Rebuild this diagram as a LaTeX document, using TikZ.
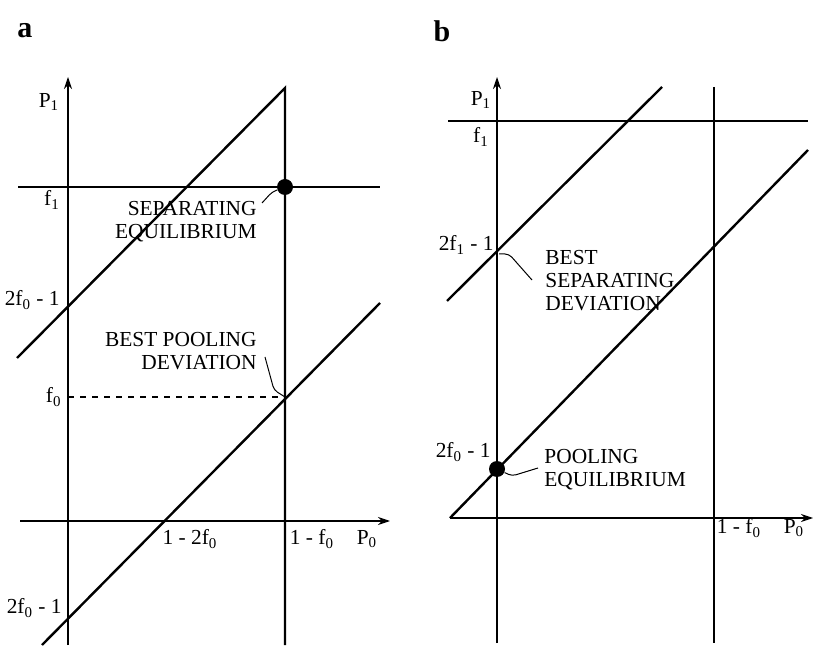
\documentclass[tikz,border=0pt]{standalone}
\usepackage{fontspec}
\setmainfont{Liberation Serif}
\usetikzlibrary{arrows.meta}

\begin{document}
\begin{tikzpicture}[
  x=0.5pt, y=-0.5pt,
  >={Stealth[length=6pt,width=4pt]},
  axis/.style={->, line width=0.6pt},
  curve/.style={line width=1.2pt},
  guide/.style={dashed, line width=0.6pt},
  lbl/.style={font=\fontsize{10.7}{11.5}\selectfont, inner sep=0pt},
  note/.style={lbl, align=left},
  leader/.style={line width=0.5pt, rounded corners=2pt},
  eqdot/.style={circle, fill=black, inner sep=0pt, minimum size=8pt},
  panel/.style={font=\fontsize{15}{15}\selectfont\bfseries, inner sep=0pt}
]
\useasboundingbox (0,0) rectangle (814,646);

% panel a
\node[panel] (pa) at (25,31) {a};
\coordinate (aSep) at (285,187);
\coordinate (aPool) at (285,397);
\draw[axis] (68,645) -- (68,77);
\draw[axis] (20,521) -- (390,521);
\draw[curve] (18,187) -- (380,187);
\draw[curve, miter limit=20] (17,358) -- (285,88) -- (285,645);
\draw[curve] (42,645) -- (380,303);
\draw[guide] (68,397) -- (aPool);
\node[eqdot] (aeq) at (aSep) {};

\node[lbl] (aP1) at (49,102) {P\textsubscript{1}};
\node[lbl] (af1) at (52,200) {f\textsubscript{1}};
\node[lbl, anchor=east] (aSepInt) at (60,300) {2f\textsubscript{0} - 1};
\node[lbl, anchor=east] (af0) at (62,397) {f\textsubscript{0}};
\node[lbl, anchor=east] (aPoolInt) at (62,608) {2f\textsubscript{0} - 1};
\node[lbl] (aZero) at (190,539) {1 - 2f\textsubscript{0}};
\node[lbl] (aCut) at (312,539) {1 - f\textsubscript{0}};
\node[lbl] (aP0) at (367,539) {P\textsubscript{0}};

\node[note, align=right, anchor=east] (asep) at (257,222) {SEPARATING\\EQUILIBRIUM};
\node[note, align=right, anchor=east] (apool) at (257,351) {BEST POOLING\\DEVIATION};
\coordinate (asepEnd) at (262,203);
\coordinate (apoolEnd) at (265,357);
\draw[leader] (asepEnd) -- (272,192) -- (aeq);
\draw[leader] (apoolEnd) -- (274,390) -- (aPool);

% panel b
\node[panel] (pb) at (442,31) {b};
\coordinate (bSep) at (497,251);
\coordinate (bPool) at (497,469);
\draw[axis] (497,643) -- (497,77);
\draw[axis] (450,518) -- (813,518);
\draw[curve] (448,121) -- (808,121);
\draw[curve] (714,87) -- (714,643);
\draw[curve] (447,301) -- (662,87);
\draw[curve] (450,518) -- (808,150);
\node[eqdot] (beq) at (bPool) {};

\node[lbl] (bP1) at (481,100) {P\textsubscript{1}};
\node[lbl] (bf1) at (481,137) {f\textsubscript{1}};
\node[lbl, anchor=east] (bSepInt) at (494,245) {2f\textsubscript{1} - 1};
\node[lbl, anchor=east] (bPoolInt) at (491,452) {2f\textsubscript{0} - 1};
\node[lbl] (bCut) at (739,528) {1 - f\textsubscript{0}};
\node[lbl] (bP0) at (794,528) {P\textsubscript{0}};

\node[note, anchor=west] (bsep) at (545,281) {BEST\\SEPARATING\\DEVIATION};
\node[note, anchor=west] (bpool) at (544,470) {POOLING\\EQUILIBRIUM};
\coordinate (bsepEnd) at (532,280);
\coordinate (bpoolEnd) at (538,468);
\draw[leader] (bSep) ++(2,3) -- (509,254) -- (bsepEnd);
\draw[leader] (beq) -- (512,476) -- (bpoolEnd);
\end{tikzpicture}
\end{document}
